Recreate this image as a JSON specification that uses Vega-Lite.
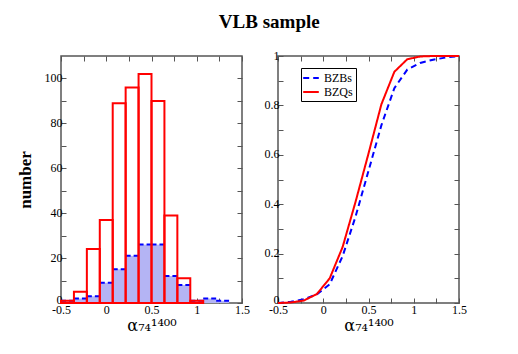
{
  "$schema": "https://vega.github.io/schema/vega-lite/v6.json",
  "background": "white",
  "padding": {"left": 15, "top": 13, "right": 5, "bottom": 5},
  "title": {"text": "VLB sample", "font": "Liberation Serif", "fontSize": 19, "fontWeight": "bold", "color": "black", "anchor": "middle", "offset": 16, "dx": 28},
  "spacing": 36,
  "bounds": "flush",
  "config": {
    "view": {"stroke": "#555555", "strokeWidth": 1.5},
    "axis": {
      "domain": false, "grid": false, "labelFlush": false, "labelOverlap": false,
      "tickColor": "#555555", "tickSize": -5, "tickWidth": 1,
      "labelFont": "Liberation Serif", "labelFontSize": 12, "labelColor": "black",
      "titleFont": "Liberation Serif", "titleColor": "black"
    }
  },
  "hconcat": [
    {
      "width": 181, "height": 247,
      "data": {"values": [
        {"x0": -0.5, "x1": -0.35714, "red": 1, "blue": 1},
        {"x0": -0.35714, "x1": -0.21429, "red": 5, "blue": 2},
        {"x0": -0.21429, "x1": -0.07143, "red": 24, "blue": 3},
        {"x0": -0.07143, "x1": 0.07143, "red": 37, "blue": 9},
        {"x0": 0.07143, "x1": 0.21429, "red": 89, "blue": 15},
        {"x0": 0.21429, "x1": 0.35714, "red": 96, "blue": 21},
        {"x0": 0.35714, "x1": 0.5, "red": 102, "blue": 26},
        {"x0": 0.5, "x1": 0.64286, "red": 90, "blue": 26},
        {"x0": 0.64286, "x1": 0.78571, "red": 39, "blue": 12},
        {"x0": 0.78571, "x1": 0.92857, "red": 11, "blue": 8},
        {"x0": 0.92857, "x1": 1.07143, "red": 1, "blue": 1},
        {"x0": 1.07143, "x1": 1.21429, "red": null, "blue": 2},
        {"x0": 1.21429, "x1": 1.35714, "red": null, "blue": 1},
        {"x0": 1.35714, "x1": 1.5, "red": null, "blue": null}
      ]},
      "resolve": {"axis": {"x": "independent", "y": "independent"}},
      "layer": [
        {
          "mark": {"type": "bar", "fill": "#b4b4f4", "strokeWidth": 0},
          "encoding": {
            "x": {"field": "x0", "type": "quantitative", "scale": {"domain": [-0.5, 1.5], "nice": false, "zero": false},
              "axis": {"orient": "bottom", "values": [-0.5, -0.25, 0, 0.25, 0.5, 0.75, 1, 1.25, 1.5],
                "labelExpr": "indexof(['-0.5','0','0.5','1','1.5'], toString(datum.value)) >= 0 ? toString(datum.value) : ''",
                "title": "α₇₄¹⁴⁰⁰", "titleFont": "DejaVu Serif", "titleFontSize": 16, "titleFontWeight": "normal", "titlePadding": 2, "labelPadding": 6}},
            "x2": {"field": "x1"},
            "y": {"field": "blue", "type": "quantitative", "scale": {"domain": [0, 110], "nice": false},
              "axis": {"orient": "left", "values": [0, 10, 20, 30, 40, 50, 60, 70, 80, 90, 100],
                "labelExpr": "datum.value % 20 == 0 ? toString(datum.value) : ''",
                "title": "number", "titleFontSize": 17, "titleFontWeight": "bold", "titlePadding": 10, "labelPadding": 4,
                "labelOffset": {"condition": {"test": "datum.value == 0", "value": -4}, "value": -1}}},
            "y2": {"datum": 0}
          }
        },
        {
          "mark": {"type": "rule", "stroke": "#0000ff", "strokeWidth": 2, "strokeDash": [5, 3]},
          "encoding": {
            "x": {"field": "x0", "type": "quantitative", "axis": null},
            "x2": {"field": "x1"},
            "y": {"field": "blue", "type": "quantitative", "axis": null}
          }
        },
        {
          "mark": {"type": "bar", "fill": "white", "fillOpacity": 0, "stroke": "#ff0000", "strokeWidth": 2},
          "encoding": {
            "x": {"field": "x0", "type": "quantitative",
              "axis": {"orient": "top", "values": [-0.5, -0.25, 0, 0.25, 0.5, 0.75, 1, 1.25, 1.5], "labels": false, "title": null}},
            "x2": {"field": "x1"},
            "y": {"field": "red", "type": "quantitative",
              "axis": {"orient": "right", "values": [0, 10, 20, 30, 40, 50, 60, 70, 80, 90, 100], "labels": false, "title": null}},
            "y2": {"datum": 0}
          }
        }
      ]
    },
    {
      "width": 181, "height": 247,
      "data": {"values": [
        {"x": -0.5, "cdf": 0, "sample": "BZBs"},
        {"x": -0.35714, "cdf": 0.005, "sample": "BZBs"},
        {"x": -0.21429, "cdf": 0.015, "sample": "BZBs"},
        {"x": -0.07143, "cdf": 0.035, "sample": "BZBs"},
        {"x": 0.07143, "cdf": 0.076, "sample": "BZBs"},
        {"x": 0.21429, "cdf": 0.19, "sample": "BZBs"},
        {"x": 0.35714, "cdf": 0.35, "sample": "BZBs"},
        {"x": 0.5, "cdf": 0.535, "sample": "BZBs"},
        {"x": 0.64286, "cdf": 0.72, "sample": "BZBs"},
        {"x": 0.78571, "cdf": 0.87, "sample": "BZBs"},
        {"x": 0.92857, "cdf": 0.945, "sample": "BZBs"},
        {"x": 1.07143, "cdf": 0.972, "sample": "BZBs"},
        {"x": 1.21429, "cdf": 0.985, "sample": "BZBs"},
        {"x": 1.35714, "cdf": 0.994, "sample": "BZBs"},
        {"x": 1.5, "cdf": 1, "sample": "BZBs"},
        {"x": -0.5, "cdf": 0, "sample": "BZQs"},
        {"x": -0.35714, "cdf": 0.002, "sample": "BZQs"},
        {"x": -0.21429, "cdf": 0.01, "sample": "BZQs"},
        {"x": -0.07143, "cdf": 0.036, "sample": "BZQs"},
        {"x": 0.07143, "cdf": 0.1, "sample": "BZQs"},
        {"x": 0.21429, "cdf": 0.227, "sample": "BZQs"},
        {"x": 0.35714, "cdf": 0.41, "sample": "BZQs"},
        {"x": 0.5, "cdf": 0.605, "sample": "BZQs"},
        {"x": 0.64286, "cdf": 0.805, "sample": "BZQs"},
        {"x": 0.78571, "cdf": 0.936, "sample": "BZQs"},
        {"x": 0.92857, "cdf": 0.987, "sample": "BZQs"},
        {"x": 1.07143, "cdf": 0.998, "sample": "BZQs"},
        {"x": 1.21429, "cdf": 1, "sample": "BZQs"},
        {"x": 1.35714, "cdf": 1, "sample": "BZQs"},
        {"x": 1.5, "cdf": 1, "sample": "BZQs"}
      ]},
      "resolve": {"axis": {"x": "independent", "y": "independent"}},
      "layer": [
        {
          "mark": {"type": "line", "strokeWidth": 2},
          "encoding": {
            "x": {"field": "x", "type": "quantitative", "scale": {"domain": [-0.5, 1.5], "nice": false, "zero": false},
              "axis": {"orient": "bottom", "values": [-0.5, -0.25, 0, 0.25, 0.5, 0.75, 1, 1.25, 1.5],
                "labelExpr": "indexof(['-0.5','0','0.5','1','1.5'], toString(datum.value)) >= 0 ? toString(datum.value) : ''",
                "title": "α₇₄¹⁴⁰⁰", "titleFont": "DejaVu Serif", "titleFontSize": 16, "titleFontWeight": "normal", "titlePadding": 2, "labelPadding": 6}},
            "y": {"field": "cdf", "type": "quantitative", "scale": {"domain": [0, 1], "nice": false},
              "axis": {"orient": "left", "values": [0, 0.1, 0.2, 0.3, 0.4, 0.5, 0.6, 0.7, 0.8, 0.9, 1],
                "labelExpr": "indexof(['0','0.2','0.4','0.6','0.8','1'], toString(datum.value)) >= 0 ? toString(datum.value) : ''",
                "title": null, "labelPadding": 4,
                "labelOffset": {"condition": {"test": "datum.value == 0", "value": -4}, "value": -1}}},
            "color": {"field": "sample", "type": "nominal", "scale": {"domain": ["BZBs", "BZQs"], "range": ["#0000ff", "#ff0000"]},
              "legend": {"orient": "none", "legendX": 240, "legendY": 12, "title": null, "symbolType": "M-1.3,0L1.3,0", "symbolSize": 144, "symbolStrokeWidth": 2,
                "labelFont": "Liberation Serif", "labelFontSize": 12, "labelColor": "black", "strokeColor": "black", "fillColor": "white", "padding": 3, "rowPadding": 1, "labelOffset": 6}},
            "strokeDash": {"field": "sample", "type": "nominal", "scale": {"domain": ["BZBs", "BZQs"], "range": [[6, 4], [1, 0]]},
              "legend": {"orient": "none", "legendX": 240, "legendY": 12, "title": null, "symbolType": "M-1.3,0L1.3,0", "symbolSize": 144, "symbolStrokeWidth": 2,
                "labelFont": "Liberation Serif", "labelFontSize": 12, "labelColor": "black", "strokeColor": "black", "fillColor": "white", "padding": 3, "rowPadding": 1, "labelOffset": 6}}
          }
        },
        {
          "mark": {"type": "rule", "opacity": 0},
          "encoding": {
            "x": {"field": "x", "type": "quantitative",
              "axis": {"orient": "top", "values": [-0.5, -0.25, 0, 0.25, 0.5, 0.75, 1, 1.25, 1.5], "labels": false, "title": null}},
            "y": {"field": "cdf", "type": "quantitative",
              "axis": {"orient": "right", "values": [0, 0.1, 0.2, 0.3, 0.4, 0.5, 0.6, 0.7, 0.8, 0.9, 1], "labels": false, "title": null}}
          }
        }
      ]
    }
  ]
}
